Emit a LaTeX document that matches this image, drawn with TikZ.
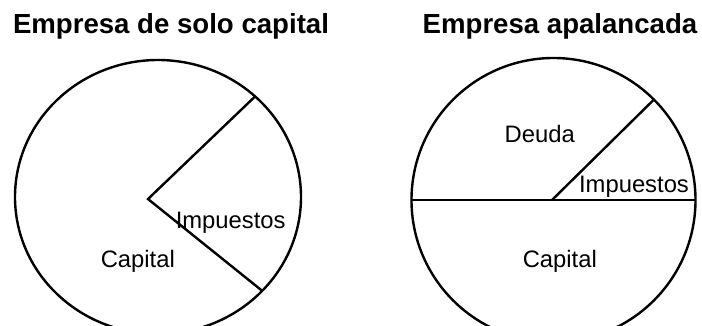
\documentclass[tikz,border=0pt]{standalone}
\usepackage{fontspec}
\setmainfont{Liberation Sans}
\usetikzlibrary{shapes.geometric}
\begin{document}
\begin{tikzpicture}[x=1pt,y=-1pt,line width=2.4pt,
  title/.style={inner sep=0pt,anchor=base,font=\fontsize{27.6}{30}\selectfont\bfseries},
  lbl/.style={inner sep=0pt,anchor=base,font=\fontsize{23.8}{26}\selectfont},
  pie/.style={draw,inner sep=0pt,outer sep=0pt}]
\useasboundingbox (0,0) rectangle (702,325);
\clip (0,0) rectangle (702,325);
\node[title] (t1) at (171,33.5) {Empresa de solo capital};
\node[title] (t2) at (560,33.5) {Empresa apalancada};
% left pie
\node[pie,ellipse,minimum width=286,minimum height=274] (c1) at (158,197) {};
\coordinate (a1) at (148,199);
\draw (c1.46.4) -- (a1) -- (c1.-42.9);
\node[lbl] (imp1) at (230.7,228.3) {Impuestos};
\node[lbl] (cap1) at (137.8,267.7) {Capital};
% right pie
\node[pie,circle,minimum size=284] (c2) at (553.5,200) {};
\coordinate (a2) at (552,200);
\draw (c2.west) -- (c2.east);
\draw (a2) -- (c2.45);
\node[lbl] (deu2) at (539.7,142.7) {Deuda};
\node[lbl] (imp2) at (634,192.7) {Impuestos};
\node[lbl] (cap2) at (559.8,267.7) {Capital};
\end{tikzpicture}
\end{document}
